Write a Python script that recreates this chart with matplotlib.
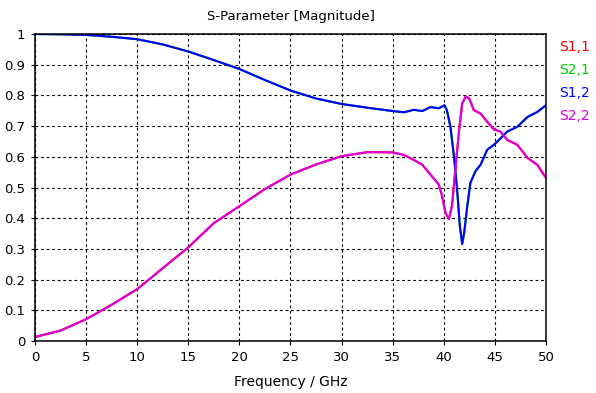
import matplotlib.pyplot as plt

# S1,2 (blue) – S2,1 lies under it
f_s12 = [0, 2.5, 5, 7.5, 10, 12.5, 15, 17.5, 20, 22.5, 25, 27.5, 30, 32.5, 35,
         36.1, 37.06, 37.9, 38.7, 39.5, 40.07, 40.3, 40.65, 41.0, 41.3, 41.57,
         41.8, 42.0, 42.3, 42.6, 43.1, 43.6, 44.25, 44.9, 45.55, 46.2, 47.2,
         48.2, 49.15, 50]
s12 = [1.0, 0.999, 0.997, 0.991, 0.983, 0.966, 0.943, 0.915, 0.886, 0.85,
       0.816, 0.79, 0.772, 0.76, 0.749, 0.745, 0.753, 0.749, 0.762, 0.758,
       0.768, 0.752, 0.698, 0.60, 0.494, 0.375, 0.316, 0.354, 0.44, 0.515,
       0.553, 0.574, 0.623, 0.639, 0.66, 0.682, 0.698, 0.73, 0.746, 0.768]

# S2,2 (magenta) – S1,1 lies under it
f_s22 = [0, 2.5, 5, 7.5, 10, 12.5, 15, 17.5, 20, 22.5, 25, 27.5, 30, 32.5, 34,
         35, 36.1, 37.06, 37.9, 38.7, 39.5, 39.8, 40.16, 40.5, 40.8, 41.1, 41.5,
         41.8, 42.15, 42.5, 42.94, 43.6, 44.25, 44.9, 45.55, 46.2, 47.2, 48.2,
         49.15, 50]
s22 = [0.013, 0.034, 0.071, 0.118, 0.169, 0.237, 0.305, 0.384, 0.439, 0.495,
       0.542, 0.575, 0.602, 0.615, 0.615, 0.614, 0.606, 0.59, 0.574, 0.542,
       0.51, 0.477, 0.418, 0.397, 0.44, 0.547, 0.687, 0.773, 0.797, 0.789,
       0.752, 0.741, 0.714, 0.689, 0.682, 0.655, 0.639, 0.596, 0.574, 0.531]

names = ['S1,1', 'S2,1', 'S1,2', 'S2,2']
colors = ['#ff0000', '#00cc00', '#0000ff', '#dd00dd']

plt.rcParams['font.family'] = 'DejaVu Sans'
plt.rcParams['font.size'] = 9.5

fig = plt.figure(figsize=(5.96, 3.93), dpi=100)
ax = fig.add_axes([0.0587, 0.1323, 0.8574, 0.7812])

# hidden traces first, visible ones on top
ax.plot(f_s22, s22, color=colors[0], lw=1.5)
ax.plot(f_s12, s12, color=colors[1], lw=1.5)
ax.plot(f_s12, s12, color=colors[2], lw=1.5)
ax.plot(f_s22, s22, color=colors[3], lw=1.5)

ax.set_xlim(0, 50)
ax.set_ylim(0, 1)
ax.set_xticks(range(0, 51, 5))
ax.set_yticks([i / 10 for i in range(11)])
ax.set_yticklabels(['0', '0.1', '0.2', '0.3', '0.4', '0.5', '0.6', '0.7',
                    '0.8', '0.9', '1'])
ax.grid(True, color='black', linestyle=(0, (2.5, 2.5)), lw=0.8)
ax.tick_params(length=3, width=0.8, pad=4, colors='black')
for s in ax.spines.values():
    s.set_linewidth(1.1)

ax.set_title('S-Parameter [Magnitude]', fontsize=9.5, pad=10)
ax.set_xlabel('Frequency / GHz', fontsize=10, labelpad=8)

for i, (n, c) in enumerate(zip(names, colors)):
    fig.text(559 / 596, 1 - (47 + 23 * i) / 393, n, color=c,
             fontsize=10, va='center', ha='left')

fig.savefig('out.png', dpi=100)
